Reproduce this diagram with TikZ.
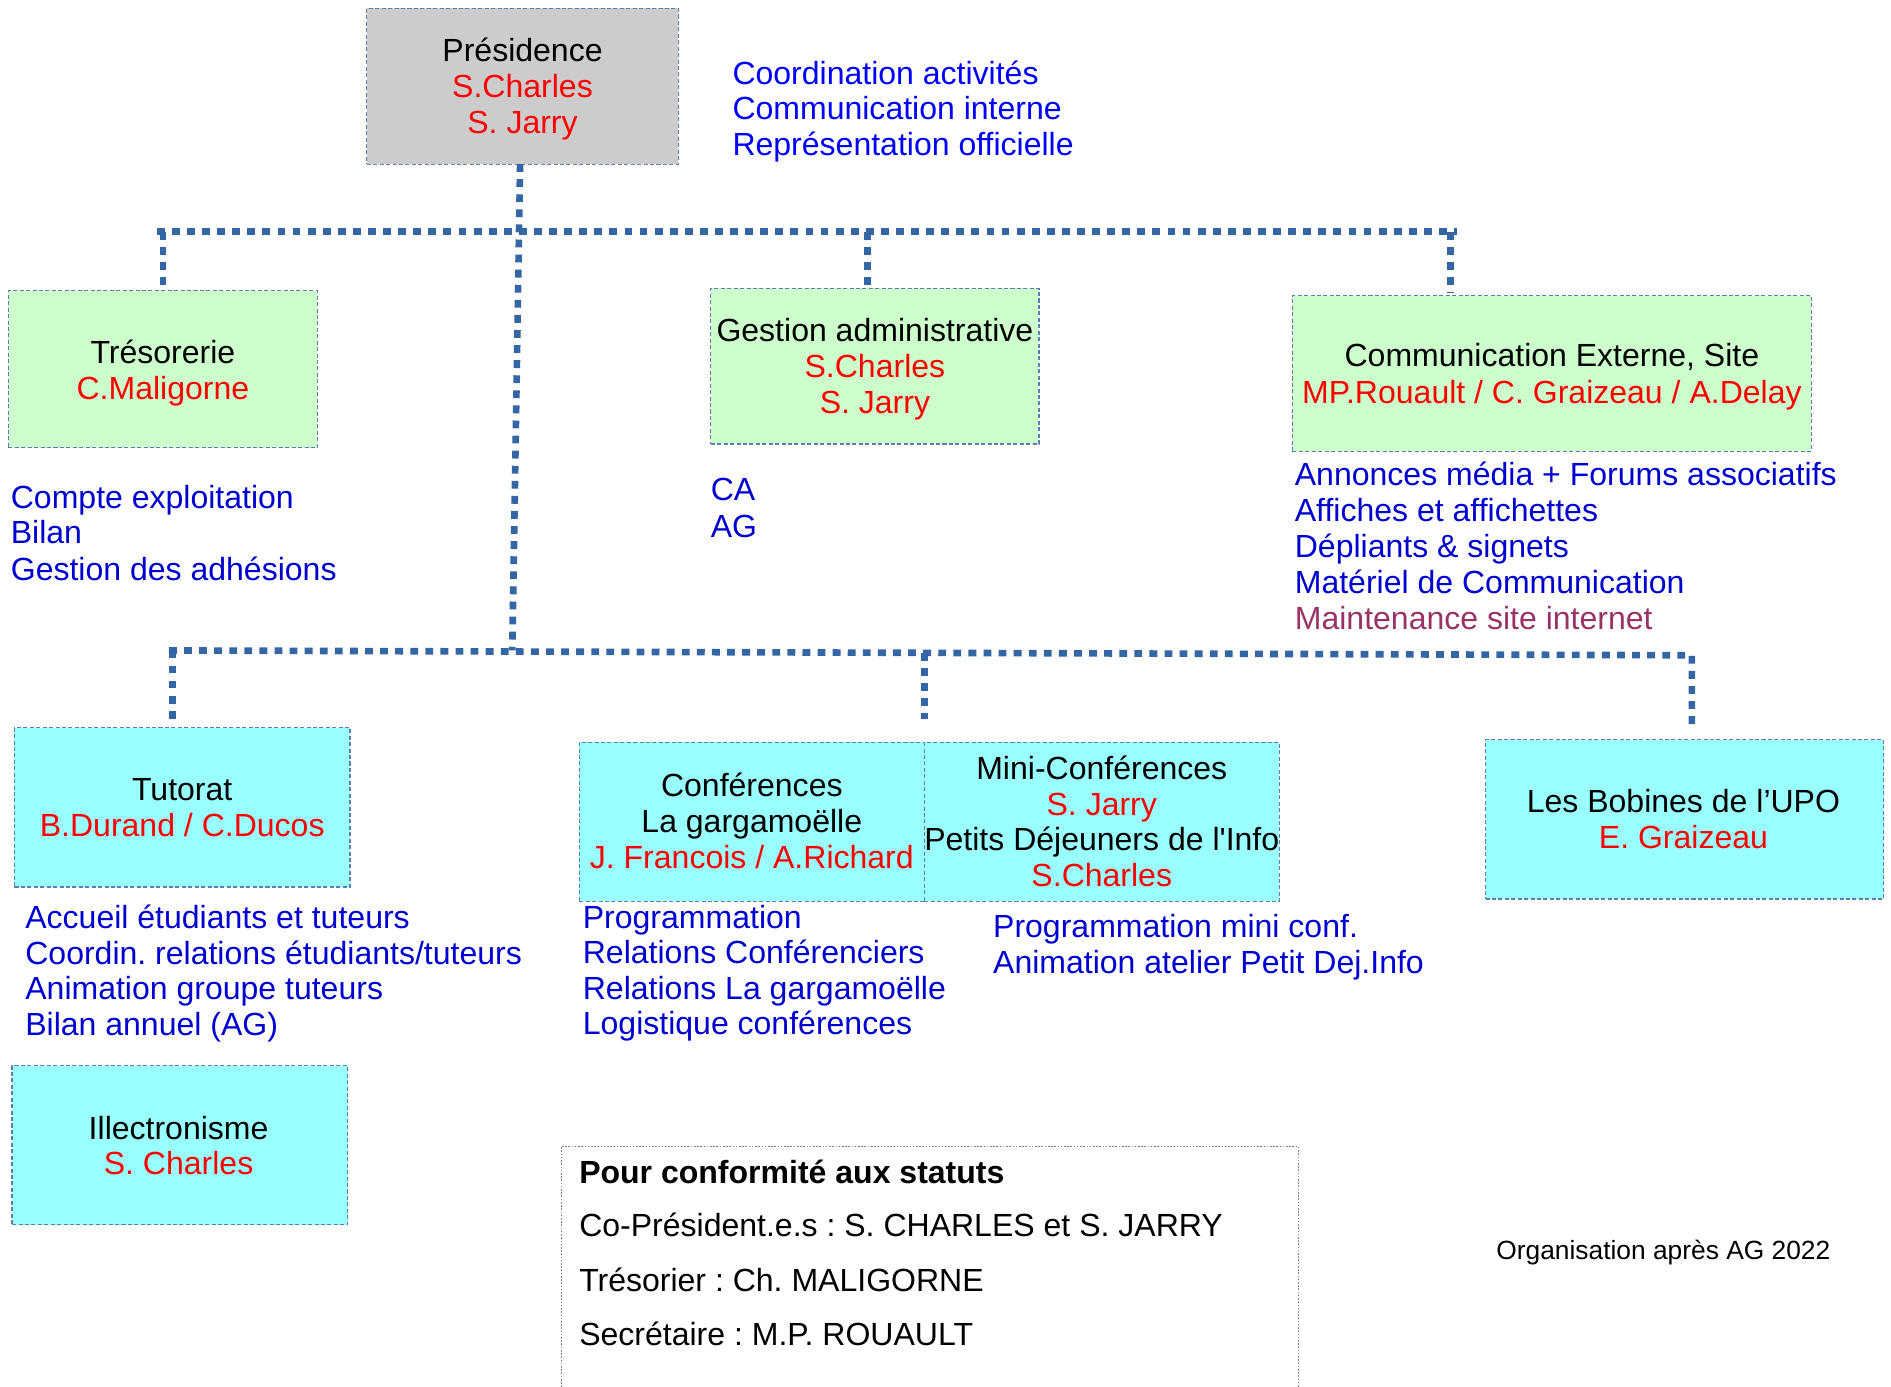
\documentclass[tikz,border=0pt]{standalone}
\usepackage{fontspec}
\setmainfont{Liberation Sans}
\usetikzlibrary{fit}
\definecolor{connc}{HTML}{3465A4}
\definecolor{bordc}{HTML}{5B7DB1}
\definecolor{gfill}{HTML}{CCFFCC}
\definecolor{cfill}{HTML}{99FFFF}
\definecolor{pfill}{HTML}{CCCCCC}
\definecolor{lblue}{HTML}{0000D0}
\definecolor{tblue}{HTML}{0000FF}
\definecolor{rname}{HTML}{FF0000}
\definecolor{maroonc}{HTML}{993366}
\frenchspacing
\begin{document}
\begin{tikzpicture}[x=0.6pt,y=-0.6pt,
  every node/.style={font=\fontsize{15.92}{18}\selectfont\frenchspacing, inner sep=0pt, outer sep=0pt},
  box/.style={draw=bordc, line width=0.6pt, dash pattern=on 2pt off 1.2pt},
  gbox/.style={box, fill=gfill},
  cbox/.style={box, fill=cfill},
  pbox/.style={box, fill=pfill},
  statbox/.style={draw=gray, line width=0.5pt, dash pattern=on 0.8pt off 0.8pt},
  link/.style={draw=connc, line width=3.3pt, dash pattern=on 3.9pt off 3.6pt},
  bt/.style={anchor=base, text=black},
  bn/.style={anchor=base, text=rname},
  lst/.style={anchor=base west, text=lblue},
  tlst/.style={anchor=base west, text=tblue},
  stl/.style={anchor=base west, text=black},
]
\useasboundingbox (0,0) rectangle (1567,1149.3);

% boxes
\node[pbox, fit={(304,7)(562,136)}] (pres) {};
\node[gbox, fit={(7,241)(263,371)}] (tres) {};
\node[gbox, fit={(589,239)(861,368)}] (gest) {};
\node[gbox, fit={(1071,245)(1501,374)}] (comm) {};
\node[cbox, fit={(12,603)(290,735)}] (tut) {};
\node[cbox, fit={(480,615)(766,747)}] (conf) {};
\node[cbox, fit={(766,615)(1060,747)}] (mini) {};
\node[cbox, fit={(1231,613)(1561,745)}] (bob) {};
\node[cbox, fit={(10,883)(288,1015)}] (illec) {};
\node[statbox, fit={(465,950)(1076,1170)}] (stat) {};

% box texts
\node[bt] (pres1) at (433,51) {Présidence};
\node[bn] (pres2) at (433,81) {S.Charles};
\node[bn] (pres3) at (433,111) {S. Jarry};

\node[bt] (tres1) at (135,301) {Trésorerie};
\node[bn] (tres2) at (135,331) {C.Maligorne};

\node[bt] (gest1) at (725,283) {Gestion administrative};
\node[bn] (gest2) at (725,313) {S.Charles};
\node[bn] (gest3) at (725,343) {S. Jarry};

\node[bt] (comm1) at (1286,304) {Communication Externe, Site};
\node[bn] (comm2) at (1286,334) {MP.Rouault / C. Graizeau / A.Delay};

\node[bt] (tut1) at (151,663) {Tutorat};
\node[bn] (tut2) at (151,693) {B.Durand / C.Ducos};

\node[bt] (conf1) at (623,660) {Conférences};
\node[bt] (conf2) at (623,690) {La gargamoëlle};
\node[bn] (conf3) at (623,720) {J. Francois / A.Richard};

\node[bt] (mini1) at (913,646) {Mini-Conférences};
\node[bn] (mini2) at (913,676) {S. Jarry};
\node[bt] (mini3) at (913,705) {Petits Déjeuners de l\textquotesingle Info};
\node[bn] (mini4) at (913,735) {S.Charles};

\node[bt] (bob1) at (1395,673) {Les Bobines de l’UPO};
\node[bn] (bob2) at (1395,703) {E. Graizeau};

\node[bt] (illec1) at (148,944) {Illectronisme};
\node[bn] (illec2) at (148,973) {S. Charles};

% lists
\node[tlst] (p1) at (607,70) {Coordination activités};
\node[tlst] (p2) at (607,99) {Communication interne};
\node[tlst] (p3) at (607,129) {Représentation officielle};

\node[lst] (t1) at (9,421) {Compte exploitation};
\node[lst] (t2) at (9,450) {Bilan};
\node[lst] (t3) at (9,481) {Gestion des adhésions};

\node[lst] (g1) at (589,415) {CA};
\node[lst] (g2) at (589,445) {AG};

\node[lst] (c1) at (1073,402) {Annonces média + Forums associatifs};
\node[lst] (c2) at (1073,432) {Affiches et affichettes};
\node[lst] (c3) at (1073,462) {Dépliants \& signets};
\node[lst] (c4) at (1073,492) {Matériel de Communication};
\node[lst, text=maroonc] (c5) at (1073,522) {Maintenance site internet};

\node[lst] (u1) at (21,769) {Accueil étudiants et tuteurs};
\node[lst] (u2) at (21,799) {Coordin. relations étudiants/tuteurs};
\node[lst] (u3) at (21,828) {Animation groupe tuteurs};
\node[lst] (u4) at (21,858) {Bilan annuel (AG)};

\node[lst] (f1) at (483,769) {Programmation};
\node[lst] (f2) at (483,798) {Relations Conférenciers};
\node[lst] (f3) at (483,828) {Relations La gargamoëlle};
\node[lst] (f4) at (483,857) {Logistique conférences};

\node[lst] (m1) at (823,777) {Programmation mini conf.};
\node[lst] (m2) at (823,807) {Animation atelier Petit Dej.Info};

\node[stl, font=\fontsize{15.92}{18}\selectfont\bfseries] (s1) at (480,981) {Pour conformité aux statuts};
\node[stl] (s2) at (480,1025) {Co-Président.e.s : S. CHARLES et S. JARRY};
\node[stl] (s3) at (480,1070) {Trésorier : Ch. MALIGORNE};
\node[stl] (s4) at (480,1115) {Secrétaire : M.P. ROUAULT};

\node[stl, font=\fontsize{13.1}{15}\selectfont] (org) at (1240,1044) {Organisation après AG 2022};

% connectors
\coordinate (ptop) at (431,136);
\coordinate (tl) at (130,192);
\coordinate (tr) at (1207,192);
\coordinate (gd) at (719,192);
\coordinate (cd) at (1202,192);
\coordinate (bl) at (140,539);
\coordinate (br) at (1402,543);
\coordinate (trunkB) at (424.5,539);
\coordinate (td) at (143,539);
\coordinate (fd) at (766,541);
\coordinate (fe) at (766,596);

\draw[link] (tl) -- (tr);
\draw[link] (ptop) -- (trunkB);
\draw[link] (tl -| tres.north) -- ([yshift=1.2pt]tres.north);
\draw[link] (gd) -- ([yshift=1.2pt]gd |- gest.north);
\draw[link] (cd) -- ([yshift=1.2pt]cd |- comm.north);
\draw[link] (bl) -- (br) -- ([yshift=4.8pt]br |- bob.north);
\draw[link] (td) -- ([yshift=3pt]td |- tut.north);
\draw[link] (fd) -- (fe);
\end{tikzpicture}
\end{document}
